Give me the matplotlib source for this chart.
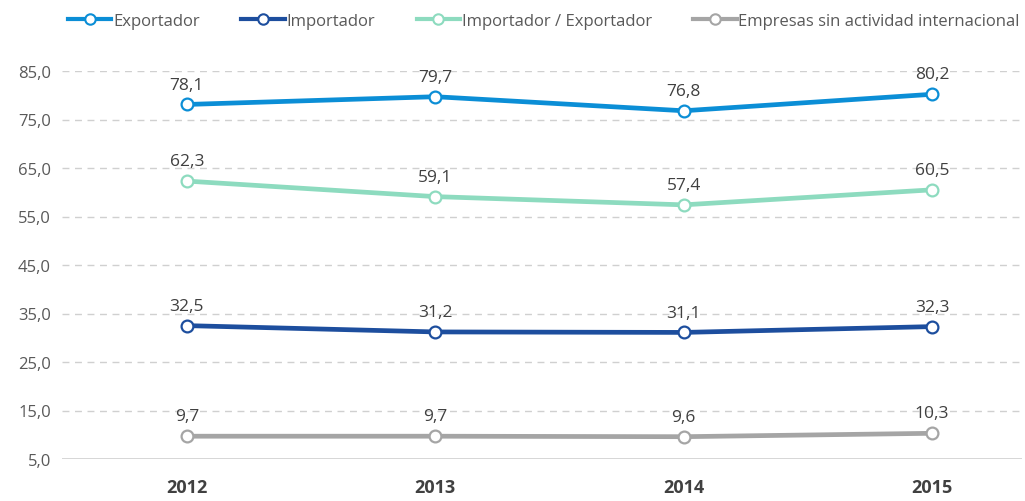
import matplotlib
matplotlib.use("Agg")
import matplotlib.pyplot as plt
from matplotlib.lines import Line2D

years = ["2012", "2013", "2014", "2015"]
exportador = [78.1, 79.7, 76.8, 80.2]
importador = [32.5, 31.2, 31.1, 32.3]
imp_exp = [62.3, 59.1, 57.4, 60.5]
sin_act = [9.7, 9.7, 9.6, 10.3]
series_names = ["Exportador", "Importador", "Importador / Exportador",
                "Empresas sin actividad internacional"]
colors = ["#0B8ED6", "#1D4E9E", "#8DDBBF", "#A5A5A5"]
yticks = [5, 15, 25, 35, 45, 55, 65, 75, 85]

plt.rcParams['font.family'] = ['Open Sans', 'DejaVu Sans']

fig = plt.figure(figsize=(10.25, 5.02), dpi=100)
ax = fig.add_axes([62/1025, (502-460)/502, (1022-62)/1025, (460-72)/502])

x = list(range(len(years)))
for vals, c in zip([exportador, importador, imp_exp, sin_act], colors):
    ax.plot(x, vals, color=c, lw=3.4, marker='o', ms=8.5, mfc='white',
            mec=c, mew=1.6, zorder=3, solid_capstyle='round')
    for xi, v in zip(x, vals):
        ax.annotate(f"{v:.1f}".replace('.', ','), (xi, v), xytext=(0, 8.5),
                    textcoords='offset points', ha='center', va='bottom',
                    fontsize=12.5, color='#404040', zorder=4)

ax.set_xlim(-0.503, 3.362)
ax.set_ylim(5, 85)
ax.set_yticks(yticks)
ax.set_yticklabels([f"{t:.1f}".replace('.', ',') for t in yticks],
                   fontsize=12, color='#595959')
ax.set_xticks(x)
ax.set_xticklabels(years, fontsize=13, fontweight='bold', color='#404040')
ax.tick_params(axis='both', length=0)
ax.tick_params(axis='y', pad=8)
ax.tick_params(axis='x', pad=14)
for t in yticks[1:]:
    ax.axhline(t, color='#D0D0D0', lw=1, ls=(0, (5, 4)), zorder=1)
ax.axhline(5, color='#D0D0D0', lw=1.2, zorder=1)
for s in ax.spines.values():
    s.set_visible(False)

handles = [Line2D([0], [0], color=c, lw=3, marker='o', ms=7.5, mfc='white',
                  mec=c, mew=1.5) for c in colors]
fig.legend(handles, series_names, loc='upper left', bbox_to_anchor=(58/1025, 0.993),
           ncol=4, frameon=False, fontsize=12, handlelength=2.6,
           handletextpad=0.1, columnspacing=2.5, labelcolor='#595959',
           borderaxespad=0.2)

fig.savefig("out.png", dpi=100)
